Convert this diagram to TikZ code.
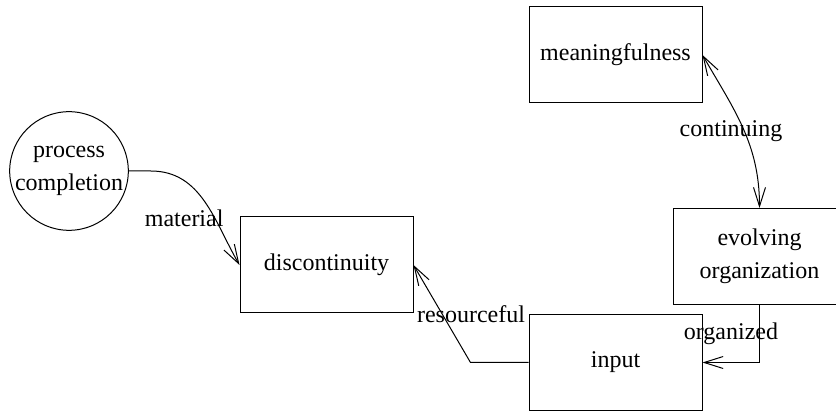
\documentclass[tikz,border=0pt]{standalone}
\usepackage{fontspec}
\setmainfont{Liberation Serif}
\usepackage{tikz}
\usetikzlibrary{arrows.meta,positioning,shapes.geometric,calc}

\begin{document}
\begin{tikzpicture}[
    x=0.5pt, y=-0.5pt,
    font=\fontsize{12}{16.5}\selectfont,
    concept/.style={draw=black, line width=0.5pt, minimum width=86.5pt, minimum height=48pt,
                    align=center, inner sep=0pt},
    process/.style={draw=black, line width=0.5pt, circle, minimum size=58pt,
                    align=center, inner sep=0pt},
    link/.style={-{Straight Barb[length=9.5pt,width=6pt]}, line width=0.5pt, black},
    twoway/.style={{Straight Barb[length=9.5pt,width=6pt]}-{Straight Barb[length=9.5pt,width=6pt]},
                   line width=0.5pt, black},
    lbl/.style={inner sep=0pt}
]
\useasboundingbox (0,0) rectangle (836,411);

% Entities
\node[process] (completion) at (69,171) {process\\completion};
\node[concept] (discont) at (326.5,265) {discontinuity};
\node[concept] (meaning) at (615.5,55) {meaningfulness};
\node[concept] (evolving) at (759.5,256.5) {evolving\\organization};
\node[concept] (input) at (615.5,362.5) {input};

% Connectors
\draw[link] (completion.east) -- ++(22,0) to[out=0, in=120] (discont.west);
\draw[link] (input.west) -- ++(-58,0) -- (discont.east);
\draw[link] (evolving.south) |- (input.east);
\draw[twoway] (meaning.east) to[out=-60, in=90] (evolving.north);

% Labels (halfway between the end points)
\path (completion.east) -- node[lbl]{material} (discont.west);
\path (input.west) -- node[lbl]{resourceful} (discont.east);
\path (evolving.south) -- node[lbl]{organized} (input.east);
\path (meaning.east) -- node[lbl]{continuing} (evolving.north);

\end{tikzpicture}
\end{document}
